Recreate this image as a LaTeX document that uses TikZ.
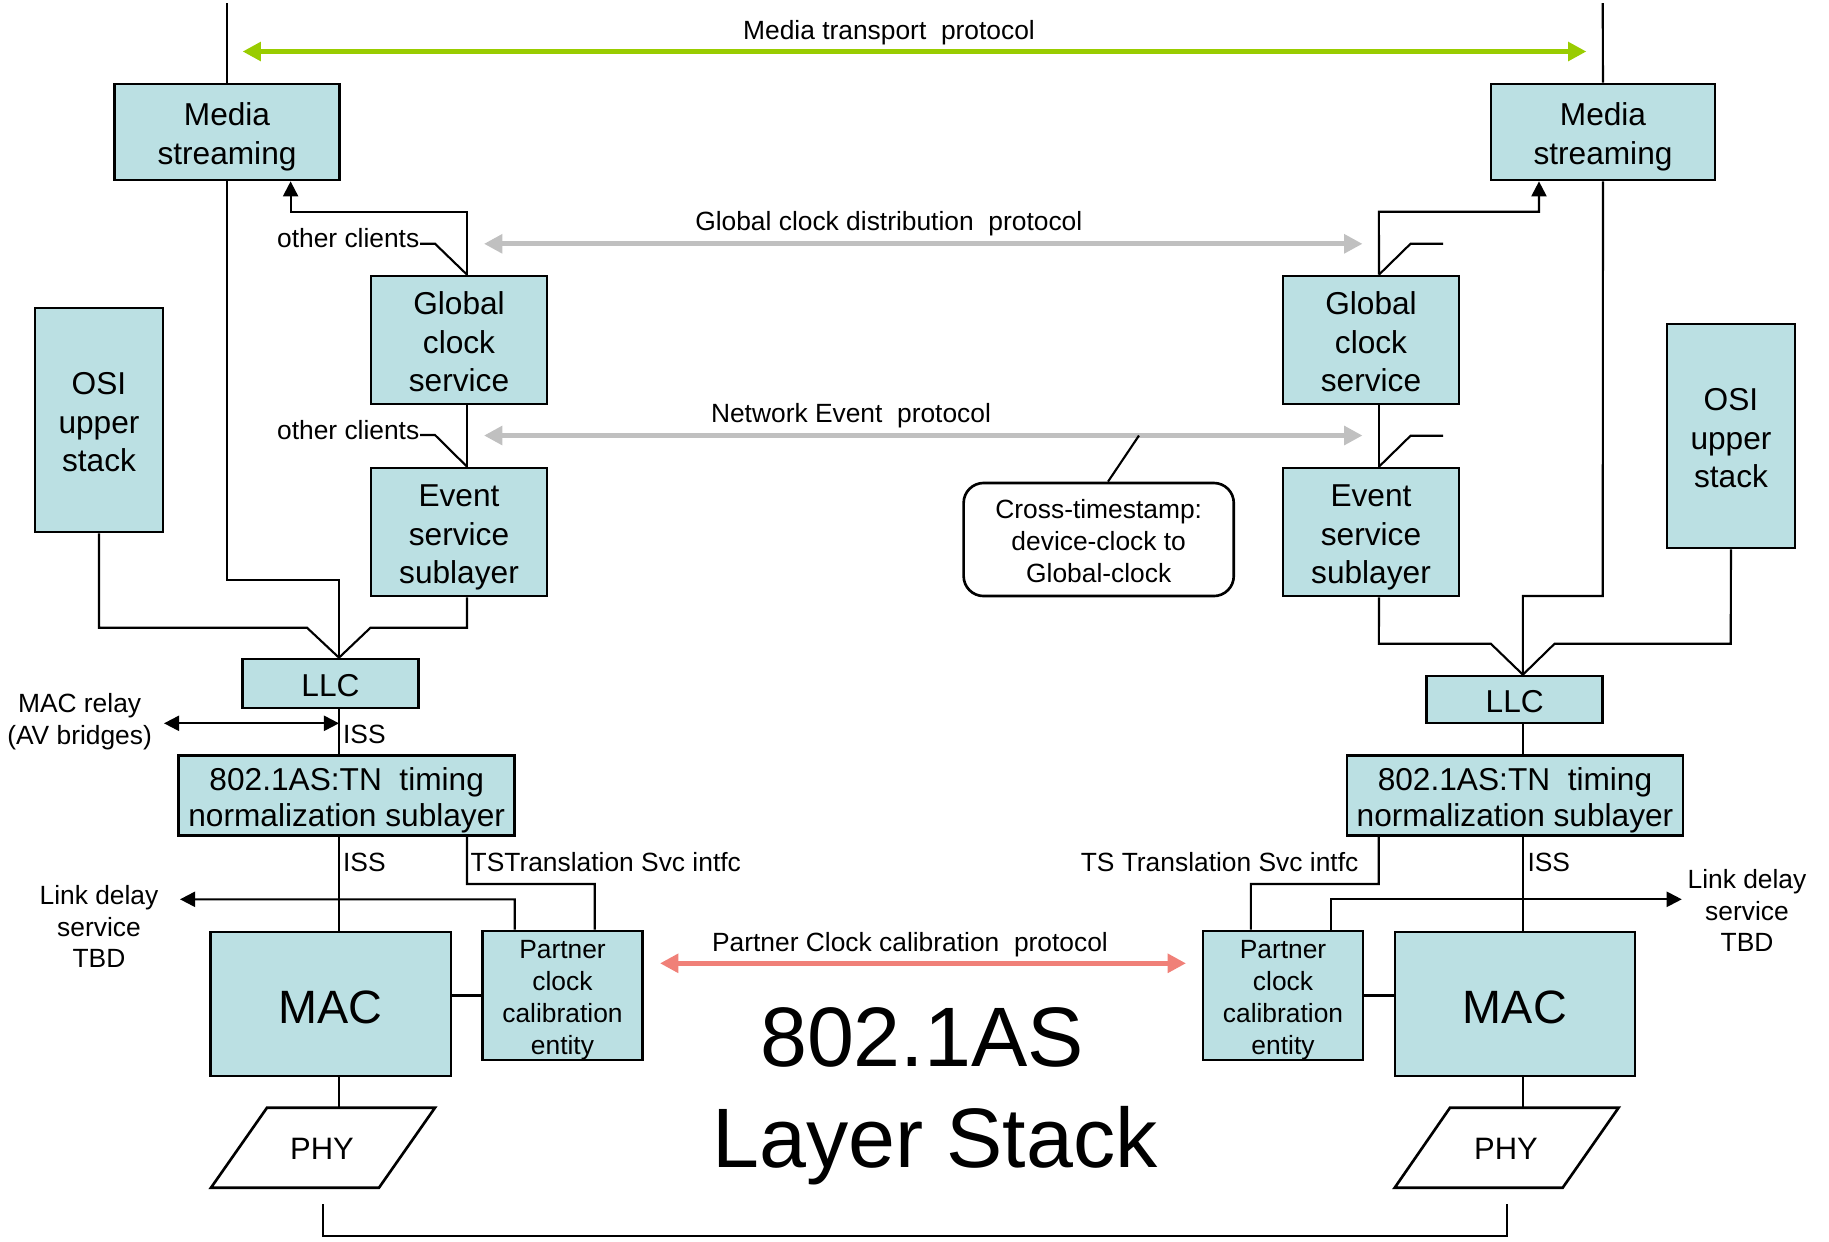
\documentclass[tikz,border=0pt]{standalone}
\usepackage{fontspec}
\setmainfont{Liberation Sans}
\usetikzlibrary{arrows.meta,calc}
\definecolor{boxfill}{RGB}{187,224,227}
\definecolor{mediagreen}{RGB}{153,204,0}
\definecolor{clockgray}{RGB}{192,192,192}
\definecolor{partnerred}{RGB}{240,128,120}
\newcommand\boxfont{\fontsize{9}{10.9}\selectfont}
\newcommand\lblfont{\fontsize{7.5}{9}\selectfont}
% struts giving each box text a full line ascent (first line) and descent (last line)
\newcommand\ppfirst{\rule[-0.212em]{0pt}{1.25em}}
\newcommand\pplast{\rule[-0.212em]{0pt}{1.117em}}
\begin{document}
\begin{tikzpicture}[x=0.01cm,y=-0.01cm,
  stackbox/.style={draw,line width=0.75pt,fill=boxfill,align=center,font=\boxfont,inner sep=0pt},
  lbl/.style={font=\lblfont,inner sep=0pt,align=center},
  wire/.style={line width=0.6pt},
  tipend/.style={-{Triangle[length=4.3pt,width=4.3pt]}},
  tipboth/.style={{Triangle[length=4.3pt,width=4.3pt]}-{Triangle[length=4.3pt,width=4.3pt]}},
  protoarrow/.style={line width=1.5pt,{Triangle[length=5.2pt,width=5.2pt]}-{Triangle[length=5.2pt,width=5.2pt]}}]
\useasboundingbox (0,0) rectangle (1829,1241);

% ---------- left station ----------
\node[stackbox,minimum width=2.25cm,minimum height=0.96cm] (msL) at (227,132) {\ppfirst Media\\streaming\pplast};
\node[stackbox,minimum width=1.76cm,minimum height=1.28cm] (gcsL) at (459,340) {\ppfirst Global\\clock\\service\pplast};
\node[stackbox,minimum width=1.76cm,minimum height=1.28cm] (evL) at (459,532) {\ppfirst Event\\service\\sublayer\pplast};
\node[stackbox,minimum width=1.28cm,minimum height=2.24cm] (osiL) at (99,420) {\ppfirst OSI\\upper\\stack\pplast};
\node[stackbox,minimum width=1.76cm,minimum height=0.49cm] (llcL) at (330.5,683.5) {\ppfirst LLC};
\node[stackbox,minimum width=3.36cm,minimum height=0.80cm,font=\fontsize{9}{10.2}\selectfont] (tnL) at (346.7,795.7) {\ppfirst 802.1AS:TN\ \ timing\\normalization sublayer\pplast};
\node[stackbox,minimum width=2.40cm,minimum height=1.44cm,font=\fontsize{13.3}{16}\selectfont] (macL) at (330.8,1003.9) {\ppfirst MAC};
\node[stackbox,minimum width=1.60cm,minimum height=1.28cm,font=\fontsize{7.5}{9.1}\selectfont] (pcL) at (562.5,995.5) {\ppfirst Partner\\clock\\calibration\\entity\pplast};
\draw[line width=0.75pt] (267,1107.7) -- (435,1107.7) -- (379,1187.7) -- (211,1187.7) -- cycle;
\node[font=\fontsize{8.8}{10}\selectfont] (phyL) at (322,1149) {PHY};

% ---------- right station ----------
\node[stackbox,minimum width=2.24cm,minimum height=0.96cm] (msR) at (1603,132) {\ppfirst Media\\streaming\pplast};
\node[stackbox,minimum width=1.76cm,minimum height=1.28cm] (gcsR) at (1371,340) {\ppfirst Global\\clock\\service\pplast};
\node[stackbox,minimum width=1.76cm,minimum height=1.28cm] (evR) at (1371,532) {\ppfirst Event\\service\\sublayer\pplast};
\node[stackbox,minimum width=1.28cm,minimum height=2.24cm] (osiR) at (1731,436) {\ppfirst OSI\\upper\\stack\pplast};
\node[stackbox,minimum width=1.76cm,minimum height=0.47cm] (llcR) at (1514.7,699.5) {\ppfirst LLC};
\node[stackbox,minimum width=3.36cm,minimum height=0.80cm,font=\fontsize{9}{10.2}\selectfont] (tnR) at (1515,795.7) {\ppfirst 802.1AS:TN\ \ timing\\normalization sublayer\pplast};
\node[stackbox,minimum width=2.40cm,minimum height=1.44cm,font=\fontsize{13.3}{16}\selectfont] (macR) at (1514.9,1003.9) {\ppfirst MAC};
\node[stackbox,minimum width=1.60cm,minimum height=1.28cm,font=\fontsize{7.5}{9.1}\selectfont] (pcR) at (1283,995.5) {\ppfirst Partner\\clock\\calibration\\entity\pplast};
\draw[line width=0.75pt] (1450,1107.7) -- (1618.6,1107.7) -- (1562.7,1187.7) -- (1394.7,1187.7) -- cycle;
\node[font=\fontsize{8.8}{10}\selectfont] (phyR) at (1506,1149) {PHY};

% ---------- callout ----------
\node[draw,line width=0.75pt,rounded corners=0.2cm,minimum width=2.70cm,minimum height=1.13cm,align=center,font=\lblfont,inner sep=0pt] (xts) at (1098.7,539.5) {\ppfirst Cross-timestamp:\\device-clock to\\Global-clock\pplast};

% ---------- labels ----------
\node[lbl,anchor=base] (mtp) at (889,39.4) {Media transport\ \ protocol};
\node[lbl,anchor=base] (gcdp) at (888.8,230.8) {Global clock distribution\ \ protocol};
\node[lbl,anchor=base] (nep) at (851,422) {Network Event\ \ protocol};
\node[lbl,anchor=base] (pccp) at (910,951.7) {Partner Clock calibration\ \ protocol};
\node[lbl,anchor=base east] (ocL1) at (420,247.3) {other clients};
\node[lbl,anchor=base east] (ocL2) at (420,439) {other clients};
\node[lbl] (relay) at (79.6,721.5) {MAC relay\\(AV bridges)};
\node[lbl,anchor=base west] (issL1) at (342.4,743.3) {ISS};
\node[lbl,anchor=base west] (issL2) at (342.4,871) {ISS};
\node[lbl,anchor=base west] (tsiL) at (470,871) {TSTranslation Svc intfc};
\node[lbl,anchor=base east] (tsiR) at (1359,871) {TS Translation Svc intfc};
\node[lbl,anchor=base west] (issR) at (1526.8,871) {ISS};
\node[lbl] (ldL) at (99,926.5) {Link delay\\service\\TBD};
\node[lbl] (ldR) at (1747,910.5) {Link delay\\service\\TBD};
\node[font=\fontsize{24}{28}\selectfont,anchor=base,inner sep=0pt] (title1) at (922,1066.7) {802.1AS};
\node[font=\fontsize{24}{28}\selectfont,anchor=base,inner sep=0pt] (title2) at (935,1167.7) {Layer Stack};

% ---------- junction points ----------
\coordinate (topL) at (227,3);
\coordinate (topR) at (1602.7,3);
\coordinate (hubL) at ($(llcL.north)+(8.5,0)$);
\coordinate (hubR) at ($(llcR.north)+(8.2,0)$);
\coordinate (gcLt) at ($(gcsL.north)+(8,0)$);
\coordinate (gcLb) at ($(gcsL.south)+(8,0)$);
\coordinate (evLt) at ($(evL.north)+(8,0)$);
\coordinate (evLb) at ($(evL.south)+(8,0)$);
\coordinate (gcRt) at ($(gcsR.north)+(8,0)$);
\coordinate (gcRb) at ($(gcsR.south)+(8,0)$);
\coordinate (evRt) at ($(evR.north)+(8,0)$);
\coordinate (evRb) at ($(evR.south)+(8,0)$);
\coordinate (phyLtop) at (339,1107.7);
\coordinate (phyRtop) at (1522.9,1107.7);
\coordinate (relayTip) at (164,723.3);
\coordinate (relayJoin) at (339,723.3);
\coordinate (ldLtip) at (180,899.3);
\coordinate (ldRtip) at (1681.8,899.3);

% ---------- left wiring ----------
\draw[wire] (topL) -- (msL.north);
\draw[wire] (msL.south) -- (227,580.3) -- (339,580.3) -- (hubL);
\draw[wire] (osiL.south) -- (99,627.7) -- (307,627.7) -- (hubL);
\draw[wire] (evLb) -- (467,627.7) -- (370.5,627.7) -- (hubL);
\draw[wire] (gcLb) -- (evLt);
\draw[wire,tipend] (gcLt) -- (467,211.7) -- (290.6,211.7) -- ($(msL.south)+(63.6,0)$);
\draw[wire] ($(ocL1.base east)+(0,-3.6)$) -- (435,243.7) -- (gcLt);
\draw[wire] ($(ocL2.base east)+(0,-4)$) -- (435,435) -- (evLt);
\draw[wire] (hubL |- llcL.south) -- (hubL |- tnL.north);
\draw[wire,tipboth] (relayTip) -- (relayJoin);
\draw[wire] (hubL |- tnL.south) -- (hubL |- macL.north);
\draw[wire] ($(tnL.south)+(120.3,0)$) -- (467,884) -- (594.7,884) -- ($(pcL.north)+(32.2,0)$);
\draw[wire,tipend] ($(pcL.north)+(-47.7,0)$) -- (514.8,899.3) -- (ldLtip);
\draw[wire] (pcL.west -| macL.east) -- (pcL.west);
\draw[wire] (hubL |- macL.south) -- (phyLtop);

% ---------- right wiring ----------
\draw[wire] (topR) -- (msR.north);
\draw[wire] (msR.south) -- (1602.7,596) -- (1522.9,596) -- (hubR);
\draw[wire] (osiR.south) -- (1730.7,643.7) -- (1554.6,643.7) -- (hubR);
\draw[wire] (evRb) -- (1378.9,643.7) -- (1490.8,643.7) -- (hubR);
\draw[wire] (gcRb) -- (evRt);
\draw[wire,tipend] (gcRt) -- (1378.9,211.7) -- (1539,211.7) -- ($(msR.south)+(-64,0)$);
\draw[wire] (gcRt) -- (1410.6,243.7) -- (1443,243.7);
\draw[wire] (evRt) -- (1410.6,435.7) -- (1443,435.7);
\draw[wire] (hubR |- llcR.south) -- (hubR |- tnR.north);
\draw[wire] (hubR |- tnR.south) -- (hubR |- macR.north);
\draw[wire] ($(tnR.south)+(-136.3,0)$) -- (1378.7,884) -- (1250.9,884) -- ($(pcR.north)+(-32.1,0)$);
\draw[wire,tipend] ($(pcR.north)+(47.6,0)$) -- (1330.6,899.3) -- (ldRtip);
\draw[wire] (pcR.east) -- (pcR.east -| macR.west);
\draw[wire] (hubR |- macR.south) -- (phyRtop);

% ---------- link between the two PHYs ----------
\draw[wire] (322.7,1204) -- (322.7,1235.7) -- (1506.9,1235.7) -- (1506.9,1204);

% ---------- peer protocols ----------
\draw[protoarrow,mediagreen] (242.6,51.5) -- (1586.4,51.5);
\draw[protoarrow,clockgray] (484,243.8) -- (1362.5,243.8);
\draw[protoarrow,clockgray] (484,435.5) -- (1362.5,435.5);
\draw[protoarrow,partnerred] (660,963.3) -- (1186,963.3);
\draw[wire] ($(xts.north)+(9.3,0)$) -- (1139,435.5);
\end{tikzpicture}
\end{document}
